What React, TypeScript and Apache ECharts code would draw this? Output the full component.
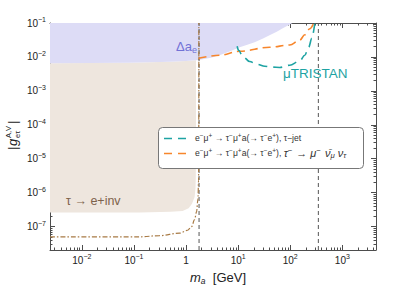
import React, { useEffect, useRef } from "react";
import * as echarts from "echarts";

// ---------- data (masses in GeV, couplings dimensionless) ----------
const X_RANGE = [0.00245, 4420];
const Y_RANGE = [2.04e-8, 0.1];
const X_TICKS = [0.01, 0.1, 1, 10, 100, 1000];
const Y_TICKS = [1e-7, 1e-6, 1e-5, 1e-4, 1e-3, 1e-2, 1e-1];

// Delta a_e excluded region (lower boundary)
const DAE_M = [0.00245, 0.08, 0.5, 1.0, 1.75, 3.0, 4.4, 7.0, 10.7, 15.0, 20.7, 30.0, 40.0, 55.0, 69.0, 88.0, 110.0];
const DAE_G = [6.5e-3, 6.75e-3, 7.2e-3, 7.6e-3, 8.1e-3, 9.4e-3, 1.12e-2, 1.48e-2, 1.92e-2, 2.3e-2, 2.72e-2, 3.5e-2, 4.35e-2, 5.5e-2, 6.75e-2, 8.3e-2, 0.1];

// tau -> e + inv excluded region (lower / right boundary)
const TAU_M = [0.00245, 0.13, 0.5, 0.86, 1.12, 1.3, 1.46, 1.52, 1.54, 1.55, 1.555];
const TAU_G = [2.6e-7, 2.6e-7, 2.75e-7, 2.9e-7, 3.45e-7, 4.7e-7, 7.4e-7, 1.4e-6, 3.3e-6, 2e-5, 8.0e-3];

// dash-dotted projection
const DD_M = [0.00245, 0.13, 0.31, 0.75, 1.07, 1.28, 1.455, 1.59, 1.69, 1.74, 1.755, 1.762];
const DD_G = [5.0e-8, 5.0e-8, 5.4e-8, 6.4e-8, 7.8e-8, 1.0e-7, 1.6e-7, 2.7e-7, 6.2e-7, 2.3e-6, 1e-4, 0.1];

// tau-jet channel (teal)
const JET_M = [9.56, 10.2, 12.2, 16.6, 23.0, 32.4, 45.0, 62.8, 97.8, 152, 190, 226, 259, 296];
const JET_G = [2.07e-2, 1.57e-2, 1.05e-2, 7.3e-3, 6.1e-3, 5.3e-3, 5.0e-3, 4.9e-3, 5.7e-3, 7.6e-3, 1.12e-2, 1.93e-2, 3.55e-2, 0.1];

// leptonic channel (orange)
const LEP_M = [1.74, 4.41, 10.7, 40.3, 97.8, 152, 190, 237, 283];
const LEP_G = [9.2e-3, 1.12e-2, 1.47e-2, 1.93e-2, 2.25e-2, 3.1e-2, 4.5e-2, 6.8e-2, 0.1];

// vertical reference masses
const VLINES = [1.777, 346];

// ---------- helpers ----------
const L = Math.log10;
const pts = (m: number[], g: number[]) => m.map((v, i) => [L(v), L(g[i])]);

const FONT = "Liberation Sans, Arial, Helvetica, sans-serif";
const FRAME = "#4d4d4d";
const TEAL = "#1ea3a3";
const ORANGE = "#f7862c";
const BROWN = "#a87a44";

const xMin = L(X_RANGE[0]);
const xMax = L(X_RANGE[1]);
const yMin = L(Y_RANGE[0]);
const yMax = L(Y_RANGE[1]);

function minorTicks(lo: number, hi: number) {
  const out: number[] = [];
  for (let k = Math.floor(lo) - 1; k <= Math.ceil(hi); k++) {
    for (let j = 2; j <= 9; j++) {
      const v = k + L(j);
      if (v > lo && v < hi) out.push(v);
    }
  }
  return out;
}

const fmt = (v: number) => {
  const e = Math.round(v);
  if (e === 0) return "1";
  return `10{sup|${e < 0 ? "\u2212" : ""}${Math.abs(e)}}`;
};

export default function App() {
  const ref = useRef<HTMLDivElement>(null);
  useEffect(() => {
    if (!ref.current) return;
    const chart = echarts.init(ref.current, undefined, { renderer: "svg" });

    const majX = X_TICKS.map(L);
    const majY = Y_TICKS.map(L);
    const minX = minorTicks(xMin, xMax);
    const minY = minorTicks(yMin, yMax);

    const labelStyle = {
      color: "#222",
      fontSize: 10,
      fontFamily: FONT,
      lineHeight: 14,
      formatter: fmt,
      rich: {
        sup: { fontSize: 7, lineHeight: 7, verticalAlign: "top", fontFamily: FONT, color: "#222" },
      },
    };

    const xBase = { type: "value", min: xMin, max: xMax, splitLine: { show: false } };
    const yBase = { type: "value", min: yMin, max: yMax, splitLine: { show: false } };
    const line = { show: true, onZero: false, lineStyle: { color: FRAME, width: 1 } };
    const noLine = { show: false, onZero: false };
    const tick = (vals: number[], len: number) => ({
      show: true,
      inside: true,
      length: len,
      customValues: vals,
      lineStyle: { color: FRAME, width: 1 },
    });

    const xAxis = [
      { ...xBase, position: "bottom", axisLine: line, axisTick: tick(majX, 5), axisLabel: { ...labelStyle, customValues: majX, margin: 3 } },
      { ...xBase, position: "bottom", axisLine: noLine, axisTick: tick(minX, 2.5), axisLabel: { show: false } },
      { ...xBase, position: "top", axisLine: line, axisTick: tick(majX, 5), axisLabel: { show: false } },
      { ...xBase, position: "top", axisLine: noLine, axisTick: tick(minX, 2.5), axisLabel: { show: false } },
    ];
    const yAxis = [
      { ...yBase, position: "left", axisLine: line, axisTick: tick(majY, 5), axisLabel: { ...labelStyle, customValues: majY, margin: 4 } },
      { ...yBase, position: "left", axisLine: noLine, axisTick: tick(minY, 2.5), axisLabel: { show: false } },
      { ...yBase, position: "right", axisLine: line, axisTick: tick(majY, 5), axisLabel: { show: false } },
      { ...yBase, position: "right", axisLine: noLine, axisTick: tick(minY, 2.5), axisLabel: { show: false } },
    ];

    const daePts = pts(DAE_M, DAE_G);
    const bluePoly = [...daePts, [xMax, yMax], [xMin, yMax]];
    const tauPts = pts(TAU_M, TAU_G);
    const lastTau = TAU_M[TAU_M.length - 1];
    const upperBack = daePts.filter((p) => p[0] < L(lastTau)).reverse();
    const beigePoly = [...tauPts, ...upperBack];

    const poly = (points: number[][], fill: string, z: number) => ({
      type: "custom",
      xAxisIndex: 0,
      yAxisIndex: 0,
      silent: true,
      clip: true,
      z,
      data: [[xMin, yMin]],
      renderItem: (_p: any, api: any) => ({
        type: "polygon",
        shape: { points: points.map((p) => api.coord(p)) },
        style: { fill },
      }),
    });

    const curve = (data: number[][], color: string, type: any, width: number, z: number) => ({
      type: "line",
      xAxisIndex: 0,
      yAxisIndex: 0,
      data,
      showSymbol: false,
      smooth: 0.35,
      smoothMonotone: "x",
      silent: true,
      clip: true,
      z,
      lineStyle: { color, width, type },
    });

    const series: any[] = [
      poly(beigePoly, "#eee6de", 1),
      poly(bluePoly, "#dddcf6", 1),
      ...VLINES.map((m) => ({
        type: "line",
        xAxisIndex: 0,
        yAxisIndex: 0,
        data: [[L(m), yMin], [L(m), yMax]],
        showSymbol: false,
        silent: true,
        z: 3,
        lineStyle: { color: "#555", width: 1, type: [4, 3] },
      })),
      curve(pts(DD_M, DD_G), BROWN, [5, 2, 1.5, 2], 1.2, 4),
      curve(pts(LEP_M, LEP_G), ORANGE, [8, 5], 1.6, 5),
      curve(pts(JET_M, JET_G), TEAL, [9, 6], 1.6, 5),
    ];

    const legRich = {
      sup: { fontSize: 6.5, lineHeight: 6.5, verticalAlign: "top", fontFamily: FONT, fill: "#333" },
      sub: { fontSize: 7, lineHeight: 7, verticalAlign: "bottom", fontFamily: FONT, fill: "#333" },
      g: { fontSize: 11, lineHeight: 13, fontFamily: FONT, fill: "#333", padding: [0, 3, 0, 4] },
      gi: { fontSize: 11, lineHeight: 13, fontStyle: "italic", fontFamily: FONT, fill: "#333" },
      ss: { fontSize: 7.8, lineHeight: 7.8, verticalAlign: "top", fontFamily: FONT, fill: "#333" },
      ssp: { fontSize: 7.8, lineHeight: 7.8, verticalAlign: "top", fontFamily: FONT, fill: "#333", padding: [0, 4, 0, 0] },
      sb: { fontSize: 7.8, lineHeight: 7.8, verticalAlign: "bottom", fontStyle: "italic", fontFamily: FONT, fill: "#333" },
      sbp: { fontSize: 7.8, lineHeight: 7.8, verticalAlign: "bottom", fontStyle: "italic", fontFamily: FONT, fill: "#333", padding: [0, 3, 0, 0] },
    };
    const legText = (y: number, text: string) => ({
      type: "text",
      left: 195,
      top: y - 7,
      style: {
        text,
        fontSize: 8.6,
        lineHeight: 13,
        fontFamily: FONT,
        fill: "#333",
        rich: legRich,
      },
      z: 21,
    });

    const common = "e{sup|\u2212}\u03bc{sup|+} \u2192 \u03c4{sup|\u2212}\u03bc{sup|+}a(\u2192 \u03c4{sup|\u2212}e{sup|+}), ";

    const graphic: any[] = [
      // legend
      {
        type: "rect",
        shape: { x: 158.5, y: 127.5, width: 205, height: 41, r: 4 },
        style: { fill: "#fff", stroke: "#777", lineWidth: 1 },
        z: 20,
      },
      {
        type: "line",
        shape: { x1: 164, y1: 138.5, x2: 189, y2: 138.5 },
        style: { stroke: TEAL, lineWidth: 1.6, lineDash: [8, 6] },
        z: 21,
      },
      {
        type: "line",
        shape: { x1: 164, y1: 153.5, x2: 189, y2: 153.5 },
        style: { stroke: ORANGE, lineWidth: 1.6, lineDash: [8, 6] },
        z: 21,
      },
      legText(138.5, common + "\u03c4\u2212jet"),
      legText(153.5, common + "{gi|\u03c4}{ss|\u2212}{g|\u2192}{gi|\u03bc}{ssp|\u2212}{gi|\u03bd\u0304}{sbp|\u03bc}{gi|\u03bd}{sb|\u03c4}"),
      // region labels
      {
        type: "text",
        right: 399 - 197,
        top: 38,
        style: {
          text: "\u0394a{sub|e}",
          fontSize: 13,
          lineHeight: 16,
          fontFamily: FONT,
          fill: "#7272d6",
          rich: { sub: { fontSize: 9, lineHeight: 9, verticalAlign: "bottom", fill: "#7272d6", fontFamily: FONT } },
        },
        z: 10,
      },
      {
        type: "text",
        left: 66,
        top: 194,
        style: { text: "\u03c4 \u2192 e+inv", fontSize: 12.5, fontFamily: FONT, fill: "#7e634c" },
        z: 10,
      },
      {
        type: "text",
        left: 283,
        top: 66,
        style: { text: "\u03bcTRISTAN", fontSize: 13.5, fontFamily: FONT, fill: TEAL },
        z: 10,
      },
      // x title
      {
        type: "text",
        left: 190,
        top: 269,
        style: {
          text: "{i|m}{sub|a}  [GeV]",
          fontSize: 13,
          lineHeight: 16,
          fontFamily: FONT,
          fill: "#222",
          rich: {
            i: { fontSize: 13, fontStyle: "italic", fontFamily: FONT, fill: "#222" },
            sub: { fontSize: 8.5, lineHeight: 8.5, verticalAlign: "bottom", fontStyle: "italic", fontFamily: FONT, fill: "#222" },
          },
        },
        z: 10,
      },
      // y title (rotated group)
      {
        type: "group",
        x: 12,
        y: 150,
        rotation: Math.PI / 2,
        z: 10,
        children: [
          { type: "text", x: 0, y: 0, style: { text: "|", fontSize: 13, fontFamily: FONT, fill: "#222", verticalAlign: "middle" } },
          { type: "text", x: 4, y: 0, style: { text: "g", fontSize: 13, fontStyle: "italic", fontFamily: FONT, fill: "#222", verticalAlign: "middle" } },
          { type: "text", x: 12, y: -4, style: { text: "A,V", fontSize: 7.5, fontFamily: FONT, fill: "#222", verticalAlign: "middle" } },
          { type: "text", x: 12, y: 5, style: { text: "e\u03c4", fontSize: 7.5, fontFamily: FONT, fill: "#222", verticalAlign: "middle" } },
          { type: "text", x: 26, y: 0, style: { text: "|", fontSize: 13, fontFamily: FONT, fill: "#222", verticalAlign: "middle" } },
        ],
      },
    ];

    chart.setOption({
      animation: false,
      backgroundColor: "#fff",
      grid: { left: 50, right: 23, top: 23, bottom: 38, containLabel: false },
      xAxis,
      yAxis,
      series,
      graphic,
    } as any);

    return () => chart.dispose();
  }, []);

  return <div ref={ref} style={{ position: "fixed", left: 0, top: 0, width: 399, height: 288 }} />;
}
